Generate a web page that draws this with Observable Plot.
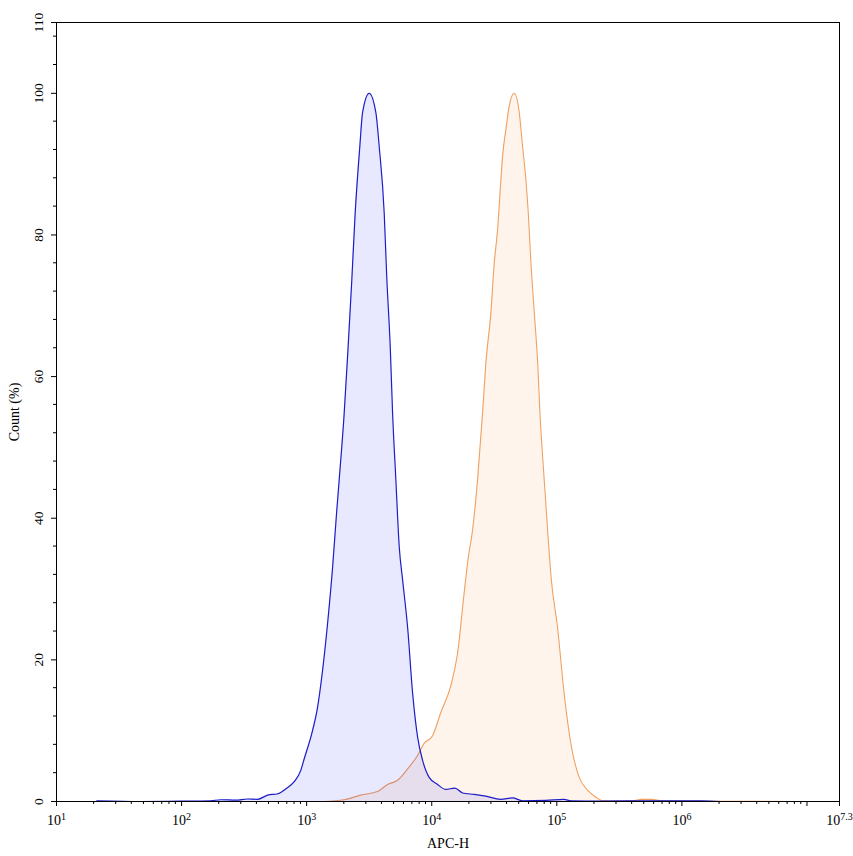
<!DOCTYPE html>
<html><head><meta charset="utf-8">
<script src="https://cdn.jsdelivr.net/npm/d3@7"></script>
<script src="https://cdn.jsdelivr.net/npm/@observablehq/plot@0.6"></script>
<style>html,body{margin:0;padding:0;background:#fff} svg{display:block}</style>
</head><body><div id="chart"></div>
<script>
// Histogram 1 (blue): [APC-H value, Count %]
const blueHist = [
  [21,0.1],[47,0],[99,0.05],[171,0.1],[206,0.25],[272,0.2],[337,0.35],[405,0.3],
  [487,0.9],[589,1.1],[683,1.8],[795,2.8],[898,4.4],[955,6.0],[1114,10],[1222,13.3],
  [1340,18.5],[1469,25.1],[1611,33],[1734,40.7],[1820,45.4],[1995,54.8],[2147,64.3],
  [2297,73.7],[2443,83.1],[2661,92.5],[2800,97.3],[3162,100],[3573,97.3],[3801,92.5],
  [4168,83.1],[4377,73.7],[4656,64.3],[4865,54.8],[5167,45.4],[5495,36],[5849,31.3],
  [6412,24.6],[7031,15.3],[7709,9.1],[8453,5.8],[9537,3.4],[11140,2.4],[12980,1.7],
  [15310,1.9],[17640,1.2],[21810,1.0],[26230,0.8],[35700,0.3],[44260,0.5],[53210,0.1],
  [81770,0.15],[114000,0.3],[129700,0.1],[225100,0.05],[564600,0.1],[1419000,0.1],[2050000,0]
];
// Histogram 2 (orange)
const orangeHist = [
  [1380,0],[1995,0.25],[2710,0.9],[3687,1.4],[4436,2.4],[5333,3.0],[6412,4.6],[7709,6.5],
  [8695,8.2],[10160,9.3],[11840,12.6],[14230,16.4],[16080,20.9],[18150,29.4],[19440,34],
  [21200,38.3],[23240,45.4],[25480,54.8],[27090,61.9],[29700,69],[31590,76],[33630,80.8],
  [35730,87.8],[36840,91.1],[39180,94.9],[41620,98.2],[45640,100],[50050,97.3],[53240,92.5],
  [56600,87.8],[59130,83.1],[62120,76],[66060,69],[70300,61.9],[73350,54.8],[79300,45.4],
  [84400,38.3],[90400,31.3],[101300,24.6],[114500,15.2],[129400,8.2],[151000,3.4],
  [176200,1.6],[205300,0.6],[232300,0.1],[325000,0.05],[420000,0.15],[470000,0.3],
  [564600,0.3],[744000,0.05],[1200000,0.05],[3000000,0.02],[8000000,0]
];

// x axis: decade exponents, the last one is the axis end (~10^7.26, shown as 10^7.3)
const xLabelExponents = [1, 2, 3, 4, 5, 6, 7.26];
const xLabelTexts = ["1", "2", "3", "4", "5", "6", "7.3"];
const xMajorExponents = [1, 2, 3, 4, 5, 6, 7, 7.26];
const xMinorMultipliers = [2, 3, 4, 5, 6, 7, 8, 9];
const yMajorTicks = [0, 20, 40, 60, 80, 100, 110];
const yMinorTicks = [4,8,12,16,24,28,32,36,44,48,52,56,64,68,72,76,84,88,92,96,104,108];
const xLabel = "APC-H";
const yLabel = "Count (%)";

const toRows = arr => arr.map(([x, y]) => ({x, y}));
const blueData = toRows(blueHist);
const orangeData = toRows(orangeHist);

const xMax = 10 ** xMajorExponents[xMajorExponents.length - 1];
const xMajor = xMajorExponents.map(e => 10 ** e);
const xMinor = [];
for (let e = 1; e <= 7; e++) for (const m of xMinorMultipliers) { const v = m * 10 ** e; if (v < xMax) xMinor.push(v); }
const xLabelRows = xLabelExponents.map((e, i) => ({v: 10 ** e, t: xLabelTexts[i]}));

const font = "'Liberation Serif', 'Times New Roman', serif";

const plot = Plot.plot({
  width: 853, height: 856,
  marginTop: 22, marginRight: 14, marginBottom: 55, marginLeft: 56,
  style: {fontFamily: font, fontSize: "13.5px", color: "black", background: "white"},
  x: {type: "log", domain: [10, xMax], ticks: xMajor, tickSize: 5, tickFormat: () => "", label: null},
  y: {domain: [0, 110], ticks: yMajorTicks, tickSize: 5, tickFormat: () => "", label: null},
  marks: [
    Plot.areaY(orangeData, {x: "x", y: "y", fill: "#f4a460", fillOpacity: 0.12, curve: "monotone-x"}),
    Plot.lineY(orangeData, {x: "x", y: "y", stroke: "#f0a060", strokeWidth: 1.1, curve: "monotone-x"}),
    Plot.areaY(blueData, {x: "x", y: "y", fill: "#0000ff", fillOpacity: 0.09, curve: "monotone-x"}),
    Plot.lineY(blueData, {x: "x", y: "y", stroke: "#1c1cc8", strokeWidth: 1.2, curve: "monotone-x"}),
    Plot.frame({stroke: "black"}),
    Plot.text(xLabelRows, {x: "v", text: d => "10^" + d.t, frameAnchor: "bottom", dy: 19, textAnchor: "middle", lineAnchor: "middle", fontSize: 14, fill: "black"}),
    Plot.text(yMajorTicks, {y: d => d, text: d => String(d), frameAnchor: "left", dx: -18, rotate: -90, textAnchor: "middle", lineAnchor: "middle", fontSize: 13.5, fill: "black"}),
    Plot.text([yLabel], {text: d => d, frameAnchor: "left", dx: -42, rotate: -90, textAnchor: "middle", lineAnchor: "middle", fontSize: 14, fill: "black"}),
    Plot.text([xLabel], {text: d => d, frameAnchor: "bottom", dy: 42, textAnchor: "middle", lineAnchor: "middle", fontSize: 14, fill: "black"})
  ]
});

// minor ticks placed with the plot's own scales
const sx = plot.scale("x"), sy = plot.scale("y");
const svg = d3.select(plot.tagName.toLowerCase() === "svg" ? plot : plot.querySelector("svg"));
const yBottom = sy.apply(0), xLeft = sx.apply(10);
const g = svg.append("g").attr("stroke", "black").attr("fill", "none");
for (const v of xMinor) {
  const px = sx.apply(v);
  g.append("line").attr("x1", px).attr("x2", px).attr("y1", yBottom).attr("y2", yBottom + 3);
}
for (const v of yMinorTicks) {
  const py = sy.apply(v);
  g.append("line").attr("x1", xLeft).attr("x2", xLeft - 3).attr("y1", py).attr("y2", py);
}

// superscript exponents on x tick labels
svg.selectAll("text").each(function() {
  const s = this.textContent;
  if (!s.startsWith("10^")) return;
  const e = s.slice(3);
  const t = d3.select(this);
  t.selectAll("*").remove();
  t.text(null);
  t.append("tspan").text("10");
  t.append("tspan").attr("dy", "-0.5em").attr("font-size", "10px").text(e);
});

document.getElementById("chart").appendChild(plot);
</script>
</body></html>
